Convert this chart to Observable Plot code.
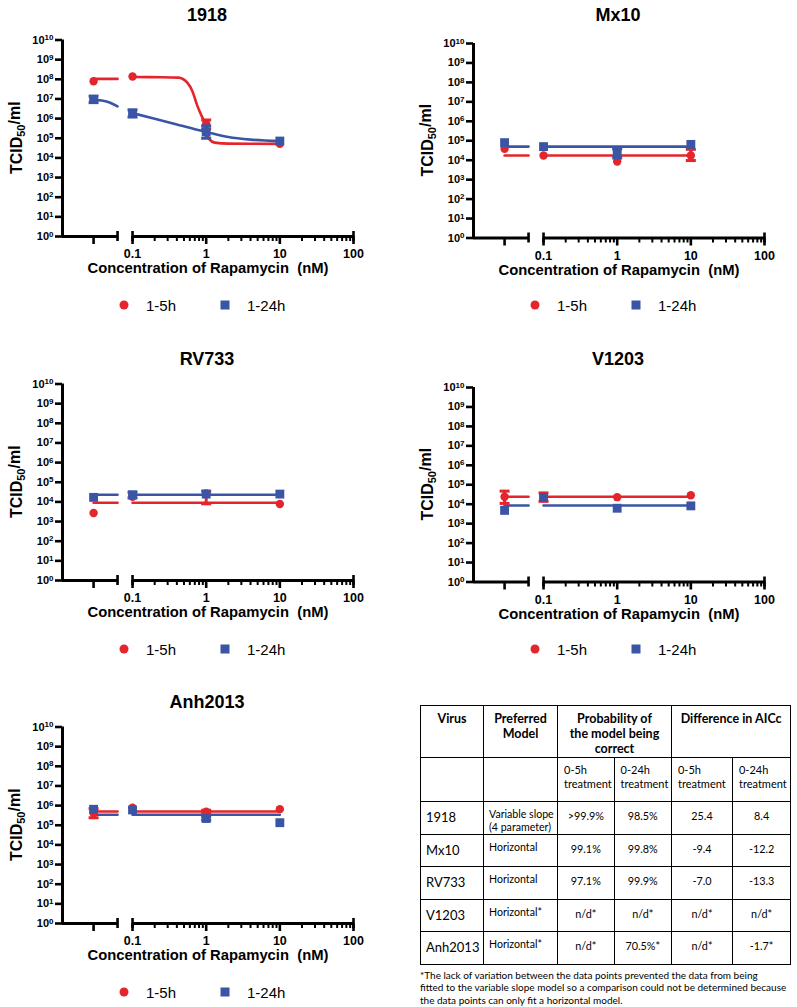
<!DOCTYPE html>
<html>
<head>
<meta charset="utf-8">
<script src="https://cdn.jsdelivr.net/npm/d3@7"></script>
<script src="https://cdn.jsdelivr.net/npm/@observablehq/plot@0.6"></script>
<style>
  html, body { margin: 0; padding: 0; background: #fff; }
  #root { position: relative; width: 797px; height: 1007px; overflow: hidden;
          font-family: "Liberation Sans", Arial, sans-serif; color: #000; }
  .ptitle { position: absolute; font-weight: bold; font-size: 18px; transform: translate(-50%, -50%); white-space: nowrap; }
  .psvg { position: absolute; }
  .lg-sym { position: absolute; transform: translate(-50%, -50%); }
  .lg-txt { position: absolute; font-size: 15px; transform: translateY(-50%); white-space: nowrap; }
  #tbl { position: absolute; left: 420px; top: 705px; border-collapse: collapse; table-layout: fixed;
         font-family: Lato, "Open Sans", sans-serif; }
  #tbl td, #tbl th { border: 1.6px solid #000; padding: 0; vertical-align: top; }
  #tbl th { font-weight: bold; font-size: 12.5px; line-height: 15px; padding-top: 5px; text-align: center; }
  #tbl td.sub { font-size: 11px; line-height: 13.5px; padding: 5px 0 0 6px; text-align: left; }
  #tbl td.vir { font-size: 13px; padding: 7px 0 0 5px; text-align: left; }
  #tbl td.mod { font-size: 10.6px; line-height: 12.5px; padding: 6px 0 0 5px; text-align: left; }
  #tbl td.num { font-size: 10.8px; padding: 7px 0 0 0; text-align: center; }
  #foot { position: absolute; left: 420px; top: 969px; font-family: Lato, "Open Sans", sans-serif;
          font-size: 10px; line-height: 12.4px; white-space: nowrap; }
</style>
</head>
<body>
<div id="root"></div>
<script>
// ------------------------------------------------------------------ data
const panelTitles = ["1918", "Mx10", "RV733", "V1203", "Anh2013"];
const seriesLabels = ["1-5h", "1-24h"];
const concentrations = [0, 0.1, 1, 10];
const xMajorTicks = [0, 0.1, 1, 10, 100];
const xTickLabels = ["0", "0.1", "1", "10", "100"];
const xMinorTicks = [0.2, 0.3, 0.4, 0.5, 0.6, 0.7, 0.8, 0.9, 2, 3, 4, 5, 6, 7, 8, 9, 20, 30, 40, 50, 60, 70, 80, 90];
const yTicks = [1e0, 1e1, 1e2, 1e3, 1e4, 1e5, 1e6, 1e7, 1e8, 1e9, 1e10];
const xTitle = "Concentration of Rapamycin \u00a0(nM)";

// 1918 (variable slope fits)
const m1918_5h  = [8.0e7, 1.4e8, 5.4e5, 5.2e4];
const lo1918_5h = [null, null, 3.0e5, null];
const hi1918_5h = [null, null, 8.5e5, null];
const m1918_24h  = [9.5e6, 1.85e6, 2.1e5, 7.2e4];
const lo1918_24h = [6.5e6, 1.2e6, 1.0e5, null];
const hi1918_24h = [1.4e7, 2.8e6, 4.3e5, null];
const fitZero1918_5h  = [1.05e8, 1.05e8];
const fitConc1918_5h  = [0.1, 0.25, 0.42, 0.55, 0.65, 0.75, 0.85, 0.95, 1.02, 1.1, 1.3, 2, 10];
const fitVal1918_5h   = [1.3e8, 1.28e8, 1.22e8, 7e7, 2.5e7, 5e6, 1.6e6, 6e5, 2e5, 9e4, 6e4, 5.3e4, 5.2e4];
const fitZero1918_24h = [9.0e6, 8.4e6, 6.6e6, 4.2e6];
const fitConc1918_24h = [0.1, 0.2, 0.4, 0.7, 1, 2, 4, 10];
const fitVal1918_24h  = [1.9e6, 9.8e5, 5.0e5, 2.9e5, 2.1e5, 1.15e5, 8.5e4, 7.2e4];

// Mx10 (horizontal fits)
const mMx10_5h  = [3.9e4, 1.75e4, 8.6e3, 1.75e4];
const loMx10_5h = [null, null, null, 9.6e3];
const hiMx10_5h = [null, null, null, 3.6e4];
const fitMx10_5h = 1.75e4;
const mMx10_24h  = [8.0e4, 5.0e4, 2.4e4, 6.5e4];
const loMx10_24h = [null, null, 1.3e4, null];
const hiMx10_24h = [null, null, 3.8e4, null];
const fitMx10_24h = 5.0e4;

// RV733
const mRV733_5h  = [2.7e3, 1.8e4, 2.7e4, 7.8e3];
const loRV733_5h = [null, null, 8.0e3, null];
const hiRV733_5h = [null, null, 3.5e4, null];
const fitRV733_5h = 9.0e3;
const mRV733_24h  = [1.7e4, 2.3e4, 2.5e4, 2.5e4];
const loRV733_24h = [null, 1.6e4, null, null];
const hiRV733_24h = [null, 3.1e4, null, null];
const fitRV733_24h = 2.3e4;

// V1203
const mV1203_5h  = [2.4e4, 2.4e4, 2.3e4, 2.9e4];
const loV1203_5h = [1.1e4, 1.4e4, null, null];
const hiV1203_5h = [4.7e4, 3.8e4, null, null];
const fitV1203_5h = 2.4e4;
const mV1203_24h  = [4.8e3, 2.2e4, 6.2e3, 8.2e3];
const loV1203_24h = [null, null, null, null];
const hiV1203_24h = [null, null, null, null];
const fitV1203_24h = 8.5e3;

// Anh2013
const mAnh_5h  = [4.1e5, 7.9e5, 4.9e5, 6.6e5];
const loAnh_5h = [2.4e5, null, 3.9e5, null];
const hiAnh_5h = [7.0e5, null, 5.8e5, null];
const fitAnh_5h = 5.0e5;
const mAnh_24h  = [6.5e5, 6.0e5, 2.2e5, 1.35e5];
const loAnh_24h = [null, null, 1.8e5, null];
const hiAnh_24h = [null, null, 2.8e5, null];
const fitAnh_24h = 3.4e5;

// table
const tblHeader = ["Virus", "Preferred Model", "Probability of the model being correct", "Difference in AICc"];
const tblSubHeader = ["0-5h treatment", "0-24h treatment", "0-5h treatment", "0-24h treatment"];
const tblVirus  = ["1918", "Mx10", "RV733", "V1203", "Anh2013"];
const tblModel  = ["Variable slope (4 parameter)", "Horizontal", "Horizontal", "Horizontal*", "Horizontal*"];
const tblProb5  = [">99.9%", "99.1%", "97.1%", "n/d*", "n/d*"];
const tblProb24 = ["98.5%", "99.8%", "99.9%", "n/d*", "70.5%*"];
const tblAic5   = ["25.4", "-9.4", "-7.0", "n/d*", "n/d*"];
const tblAic24  = ["8.4", "-12.2", "-13.3", "n/d*", "-1.7*"];
const footLines = [
  "*The lack of variation between the data points prevented the data from being",
  "fitted to the variable slope model so a comparison could not be determined because",
  "the data points can only fit a horizontal model."
];

// ------------------------------------------------------------------ styling / layout
const RED = "#E4252B", BLUE = "#3A55A5";
const X_MIN = 0.0112, ZERO_POS = 0.0296, BREAK_POS = 0.0626, X_MAX = 100;
const Y_DOMAIN = [1, 1e10];
const posX = c => (c === 0 ? ZERO_POS : c);

const rOf = size => Math.sqrt(size / Math.PI);
const hbar = {draw(ctx, size) { const r = rOf(size); ctx.moveTo(-r, 0); ctx.lineTo(r, 0); }};

function horizontalFit(v) {
  return {zero: [v, v], conc: [0.1, 10], val: [v, v]};
}
const panels = [
  {title: panelTitles[0],
   s: [{m: m1918_5h, lo: lo1918_5h, hi: hi1918_5h, fit: {zero: fitZero1918_5h, conc: fitConc1918_5h, val: fitVal1918_5h}},
       {m: m1918_24h, lo: lo1918_24h, hi: hi1918_24h, fit: {zero: fitZero1918_24h, conc: fitConc1918_24h, val: fitVal1918_24h}}]},
  {title: panelTitles[1],
   s: [{m: mMx10_5h, lo: loMx10_5h, hi: hiMx10_5h, fit: horizontalFit(fitMx10_5h)},
       {m: mMx10_24h, lo: loMx10_24h, hi: hiMx10_24h, fit: horizontalFit(fitMx10_24h)}]},
  {title: panelTitles[2],
   s: [{m: mRV733_5h, lo: loRV733_5h, hi: hiRV733_5h, fit: horizontalFit(fitRV733_5h)},
       {m: mRV733_24h, lo: loRV733_24h, hi: hiRV733_24h, fit: horizontalFit(fitRV733_24h)}]},
  {title: panelTitles[3],
   s: [{m: mV1203_5h, lo: loV1203_5h, hi: hiV1203_5h, fit: horizontalFit(fitV1203_5h)},
       {m: mV1203_24h, lo: loV1203_24h, hi: hiV1203_24h, fit: horizontalFit(fitV1203_24h)}]},
  {title: panelTitles[4],
   s: [{m: mAnh_5h, lo: loAnh_5h, hi: hiAnh_5h, fit: horizontalFit(fitAnh_5h)},
       {m: mAnh_24h, lo: loAnh_24h, hi: hiAnh_24h, fit: horizontalFit(fitAnh_24h)}]}
];
const cols = [{left: 0, yTop: 39.5, yBottom: 236}, {left: 411, yTop: 43, yBottom: 237.5}];
const rowsTop = [0, 343.5, 687];
const colors = [RED, BLUE];
const symbols = ["circle", "square"];
const radii = [4.2, 5];
const PLOT_LEFT = 62, PLOT_RIGHT_MARGIN = 47, W = 400, H = 265, SVG_TOP = 25;

const root = document.getElementById("root");

function supify(svg) {
  svg.querySelectorAll("text").forEach(t => {
    const m = /^10\^(\d+)$/.exec(t.textContent);
    if (!m) return;
    t.textContent = "10";
    const s = document.createElementNS("http://www.w3.org/2000/svg", "tspan");
    s.setAttribute("dy", "-0.42em");
    s.setAttribute("font-size", "8");
    s.textContent = m[1];
    t.appendChild(s);
  });
}

panels.forEach((p, i) => {
  const col = cols[i % 2];
  const left = col.left, top = rowsTop[Math.floor(i / 2)];
  const marginTop = col.yTop - SVG_TOP, marginBottom = H - (col.yBottom - SVG_TOP);
  // pixel → log-unit helpers for tick lengths (derived from the scale geometry)
  const pxPerDecY = (col.yBottom - col.yTop) / 10;
  const pxPerDecX = (W - PLOT_RIGHT_MARGIN - PLOT_LEFT) / Math.log10(X_MAX / X_MIN);
  const yOff = px => Math.pow(10, -px / pxPerDecY);   // multiplicative offset downward
  const xOff = px => Math.pow(10, -px / pxPerDecX);   // multiplicative offset leftward

  const pts = [], errs = [], caps = [], fits = [];
  p.s.forEach((s, k) => {
    concentrations.forEach((c, j) => {
      pts.push({x: posX(c), y: s.m[j], k});
      if (s.lo[j] != null) {
        errs.push({x: posX(c), y1: s.lo[j], y2: s.hi[j], k});
        caps.push({x: posX(c), y: s.lo[j], k}, {x: posX(c), y: s.hi[j], k});
      }
    });
    const nz = s.fit.zero.length;
    s.fit.zero.forEach((v, j) => {
      const t = nz === 1 ? 0 : j / (nz - 1);
      fits.push({x: ZERO_POS * Math.pow(BREAK_POS / ZERO_POS, t), y: v, k, seg: k + "-a"});
    });
    s.fit.conc.forEach((c, j) => fits.push({x: c, y: s.fit.val[j], k, seg: k + "-b"}));
  });

  const y0 = Y_DOMAIN[0];
  const axisH = [{x1: X_MIN, x2: BREAK_POS, y: y0}, {x1: 0.1, x2: X_MAX, y: y0}];
  const axisV = [{x: X_MIN, y1: Y_DOMAIN[0], y2: Y_DOMAIN[1]}];
  const majorPos = xMajorTicks.map(posX);
  const xTickRows = majorPos.map(x => ({x, y1: y0 * yOff(8), y2: y0}))
    .concat(xMinorTicks.map(x => ({x, y1: y0 * yOff(5), y2: y0, minor: true})))
    .concat([BREAK_POS, 0.1, X_MAX].map(x => ({x, y1: y0 * yOff(5), y2: y0 / yOff(5)})));
  const yTickRows = yTicks.map(y => ({y, x1: X_MIN * xOff(7), x2: X_MIN}));
  const byK = (arr, k) => arr.filter(d => d.k === k);

  const marks = [
    Plot.ruleX(axisV, {x: "x", y1: "y1", y2: "y2", stroke: "#000", strokeWidth: 3}),
    Plot.ruleY(axisH, {x1: "x1", x2: "x2", y: "y", stroke: "#000", strokeWidth: 3}),
    Plot.ruleX(xTickRows.filter(d => !d.minor), {x: "x", y1: "y1", y2: "y2", stroke: "#000", strokeWidth: 2.6}),
    Plot.ruleX(xTickRows.filter(d => d.minor), {x: "x", y1: "y1", y2: "y2", stroke: "#000", strokeWidth: 2}),
    Plot.ruleY(yTickRows, {y: "y", x1: "x1", x2: "x2", stroke: "#000", strokeWidth: 2.6}),
    Plot.axisX({ticks: majorPos, tickSize: 0, tickPadding: 13,
                tickFormat: d => xTickLabels[majorPos.indexOf(d)],
                fontWeight: "bold", fontSize: 12.5, label: null}),
    Plot.axisY({ticks: yTicks, tickSize: 0, tickPadding: 9,
                tickFormat: d => "10^" + Math.round(Math.log10(d)),
                fontWeight: "bold", fontSize: 11, label: null}),
    Plot.text([xTitle], {frameAnchor: "bottom", dy: 32, lineAnchor: "middle", fontWeight: "bold", fontSize: 14.8}),
  ];
  [0, 1].forEach(k => {
    marks.push(Plot.line(byK(fits, k), {x: "x", y: "y", z: "seg", stroke: colors[k], strokeWidth: 2.6, curve: "monotone-x"}));
  });
  [0, 1].forEach(k => {
    marks.push(Plot.ruleX(byK(errs, k), {x: "x", y1: "y1", y2: "y2", stroke: colors[k], strokeWidth: 3}));
    marks.push(Plot.dot(byK(caps, k), {x: "x", y: "y", symbol: hbar, r: 5, stroke: colors[k], strokeWidth: 3}));
    marks.push(Plot.dot(byK(pts, k), {x: "x", y: "y", symbol: symbols[k], r: radii[k], fill: colors[k], stroke: "none"}));
  });

  const chart = Plot.plot({
    width: W, height: H,
    marginLeft: PLOT_LEFT, marginRight: PLOT_RIGHT_MARGIN, marginTop, marginBottom,
    style: {fontFamily: "'Liberation Sans', Arial, sans-serif", background: "transparent", overflow: "visible", color: "#000"},
    x: {type: "log", domain: [X_MIN, X_MAX], axis: null},
    y: {type: "log", domain: Y_DOMAIN, axis: null},
    marks
  });
  supify(chart);
  const svg = d3.select(chart);
  const yt = svg.append("text")
    .attr("transform", `translate(16,${(col.yTop + col.yBottom) / 2 - SVG_TOP}) rotate(-90)`)
    .attr("text-anchor", "middle")
    .attr("dy", "0.35em")
    .attr("font-weight", "bold")
    .attr("font-size", 16)
    .attr("fill", "#000");
  yt.append("tspan").text("TCID");
  yt.append("tspan").attr("font-size", 11).attr("dy", "0.3em").text("50");
  yt.append("tspan").attr("dy", "-0.3em").text("/ml");

  chart.classList.add("psvg");
  chart.style.left = left + "px";
  chart.style.top = (top + SVG_TOP) + "px";
  root.appendChild(chart);

  const title = document.createElement("div");
  title.className = "ptitle";
  title.textContent = p.title;
  title.style.left = (left + 207) + "px";
  title.style.top = (top + 15) + "px";
  root.appendChild(title);

  const ly = top + 305;
  const mk = (cls, x, txt, style) => {
    const d = document.createElement("div");
    d.className = cls; d.style.left = x + "px"; d.style.top = ly + "px";
    if (txt) d.textContent = txt;
    Object.assign(d.style, style || {});
    root.appendChild(d);
  };
  mk("lg-sym", left + 124, null, {width: "9px", height: "9px", borderRadius: "50%", background: RED});
  mk("lg-txt", left + 146, seriesLabels[0]);
  mk("lg-sym", left + 225, null, {width: "9px", height: "9px", background: BLUE});
  mk("lg-txt", left + 247, seriesLabels[1]);
});

// ------------------------------------------------------------------ table
const colW = [63, 74, 56.6, 57.4, 61, 58.3];
const tbl = document.createElement("table");
tbl.id = "tbl";
const cg = document.createElement("colgroup");
colW.forEach(w => { const c = document.createElement("col"); c.style.width = w + "px"; cg.appendChild(c); });
tbl.appendChild(cg);
let tr = document.createElement("tr"); tr.style.height = "52px";
tblHeader.forEach((h, j) => {
  const th = document.createElement("th"); th.textContent = h;
  if (j >= 2) th.colSpan = 2;
  if (j === 2) th.style.padding = "5px 10px 0 10px";
  tr.appendChild(th);
});
tbl.appendChild(tr);
tr = document.createElement("tr"); tr.style.height = "44px";
["", ""].concat(tblSubHeader).forEach(h => {
  const td = document.createElement("td"); td.className = "sub";
  td.textContent = h; tr.appendChild(td);
});
tbl.appendChild(tr);
tblVirus.forEach((v, i) => {
  const r = document.createElement("tr"); r.style.height = "32.6px";
  const cells = [[v, "vir"], [tblModel[i], "mod"], [tblProb5[i], "num"], [tblProb24[i], "num"], [tblAic5[i], "num"], [tblAic24[i], "num"]];
  cells.forEach(([t, c]) => { const td = document.createElement("td"); td.className = c; td.textContent = t; r.appendChild(td); });
  tbl.appendChild(r);
});
root.appendChild(tbl);
const foot = document.createElement("div");
foot.id = "foot";
footLines.forEach((l, i) => { if (i) foot.appendChild(document.createElement("br")); foot.appendChild(document.createTextNode(l)); });
root.appendChild(foot);
</script>
</body>
</html>
